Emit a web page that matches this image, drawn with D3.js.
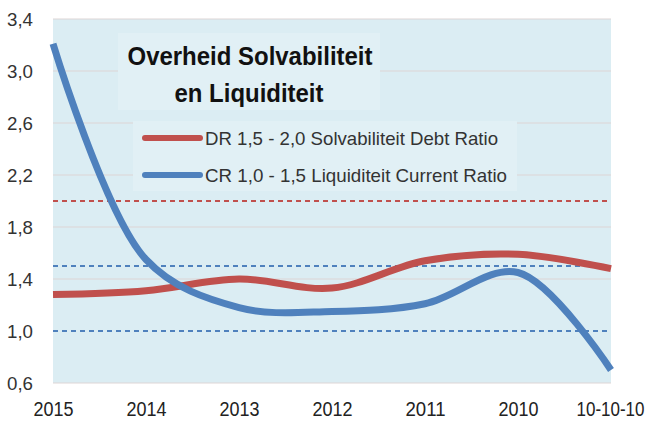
<!DOCTYPE html>
<html>
<head>
<meta charset="utf-8">
<script src="https://cdn.jsdelivr.net/npm/d3@7"></script>
<style>
  body { margin: 0; background: #fff; }
  svg { display: block; }
</style>
</head>
<body>
<svg id="chart" width="650" height="421"></svg>
<script>
// categories along the x axis (as printed in the chart)
var years = ["2015", "2014", "2013", "2012", "2011", "2010", "10-10-10"];

// series values
var debtRatio = [1.28, 1.31, 1.40, 1.33, 1.54, 1.59, 1.48];
var currentRatio = [3.21, 1.55, 1.18, 1.15, 1.21, 1.45, 0.70];

// y ticks and norm lines
var yTicks = [0.6, 1.0, 1.4, 1.8, 2.2, 2.6, 3.0, 3.4];
var normLines = [
  { value: 2.0, color: "#c0504d" },
  { value: 1.5, color: "#4f81bd" },
  { value: 1.0, color: "#4f81bd" }
];

var seriesNames = ["DR 1,5 - 2,0 Solvabiliteit Debt Ratio", "CR 1,0 - 1,5 Liquiditeit Current Ratio"];
var seriesColors = ["#c0504d", "#4f81bd"];

var svg = d3.select("#chart");

var plotLeft = 53, plotRight = 611, plotTop = 19, plotBottom = 383;
var font = "'Liberation Sans', Arial, sans-serif";

var x = d3.scalePoint()
  .domain(years)
  .range([plotLeft, plotRight]);

var y = d3.scaleLinear()
  .domain([0.6, 3.4])
  .range([plotBottom, plotTop]);

// plot background
svg.append("rect")
  .attr("x", plotLeft)
  .attr("y", plotTop)
  .attr("width", plotRight - plotLeft)
  .attr("height", plotBottom - plotTop)
  .attr("fill", "#dbedf3");

// gridlines
svg.append("g")
  .selectAll("line")
  .data(yTicks.filter(function (d) { return Math.abs(d - 1.0) > 0.01; }))
  .join("line")
  .attr("x1", plotLeft)
  .attr("x2", plotRight)
  .attr("y1", function (d) { return y(d); })
  .attr("y2", function (d) { return y(d); })
  .attr("stroke", "#ddd6d6")
  .attr("stroke-width", 1.2);

// y axis labels
var yAxis = d3.axisLeft(y)
  .tickValues(yTicks)
  .tickSize(0)
  .tickPadding(20)
  .tickFormat(function (d) { return d3.format(".1f")(d).replace(".", ","); });

var gy = svg.append("g")
  .attr("transform", "translate(" + plotLeft + ",0)")
  .call(yAxis);
gy.select(".domain").remove();
gy.selectAll("text")
  .attr("font-family", font)
  .attr("font-size", 19)
  .attr("fill", "#333")
  .attr("lengthAdjust", "spacingAndGlyphs")
  .attr("textLength", 26);

// x axis labels (narrow look via textLength)
var xAxis = d3.axisBottom(x)
  .tickSize(0)
  .tickPadding(19);

var gx = svg.append("g")
  .attr("transform", "translate(0," + plotBottom + ")")
  .call(xAxis);
gx.select(".domain").remove();
gx.selectAll("text")
  .attr("font-family", font)
  .attr("font-size", 20)
  .attr("fill", "#222")
  .attr("lengthAdjust", "spacingAndGlyphs")
  .attr("textLength", function (d) { return d.length > 4 ? 68 : 40; });
gx.selectAll(".tick").filter(function (d) { return d === "10-10-10"; })
  .select("text")
  .attr("text-anchor", "end")
  .attr("x", 33);

// norm lines (dashed)
svg.append("g")
  .selectAll("line")
  .data(normLines)
  .join("line")
  .attr("x1", plotLeft)
  .attr("x2", plotRight)
  .attr("y1", function (d) { return y(d.value); })
  .attr("y2", function (d) { return y(d.value); })
  .attr("stroke", function (d) { return d.color; })
  .attr("stroke-width", 2)
  .attr("stroke-dasharray", "5,4");

// title box
svg.append("rect")
  .attr("x", 118)
  .attr("y", 33)
  .attr("width", 262)
  .attr("height", 77)
  .attr("fill", "#e1f0f5");

svg.append("text")
  .attr("x", 250)
  .attr("y", 65)
  .attr("text-anchor", "middle")
  .attr("font-family", font)
  .attr("font-weight", "bold")
  .attr("font-size", 26)
  .attr("fill", "#111")
  .attr("lengthAdjust", "spacingAndGlyphs")
  .attr("textLength", 245)
  .text("Overheid Solvabiliteit");

svg.append("text")
  .attr("x", 249)
  .attr("y", 102)
  .attr("text-anchor", "middle")
  .attr("font-family", font)
  .attr("font-weight", "bold")
  .attr("font-size", 26)
  .attr("fill", "#111")
  .attr("lengthAdjust", "spacingAndGlyphs")
  .attr("textLength", 149)
  .text("en Liquiditeit");

// legend box
svg.append("rect")
  .attr("x", 133)
  .attr("y", 121)
  .attr("width", 384)
  .attr("height", 70)
  .attr("fill", "#e1f0f5");

var legend = svg.append("g")
  .selectAll("g")
  .data(seriesNames)
  .join("g")
  .attr("transform", function (d, i) { return "translate(145," + (138 + i * 37) + ")"; });

legend.append("line")
  .attr("x1", 0)
  .attr("x2", 55)
  .attr("stroke", function (d, i) { return seriesColors[i]; })
  .attr("stroke-width", 6)
  .attr("stroke-linecap", "round");

legend.append("text")
  .attr("x", 60)
  .attr("y", 7)
  .attr("font-family", font)
  .attr("font-size", 19)
  .attr("fill", "#333")
  .attr("lengthAdjust", "spacingAndGlyphs")
  .attr("textLength", function (d, i) { return i === 0 ? 293 : 302; })
  .text(function (d) { return d; });

// series lines
var line = d3.line()
  .x(function (d, i) { return x(years[i]); })
  .y(function (d) { return y(d); })
  .curve(d3.curveCatmullRom.alpha(0.5));

svg.append("g")
  .selectAll("path")
  .data([debtRatio, currentRatio])
  .join("path")
  .attr("d", line)
  .attr("fill", "none")
  .attr("stroke", function (d, i) { return seriesColors[i]; })
  .attr("stroke-width", 7);
</script>
</body>
</html>
